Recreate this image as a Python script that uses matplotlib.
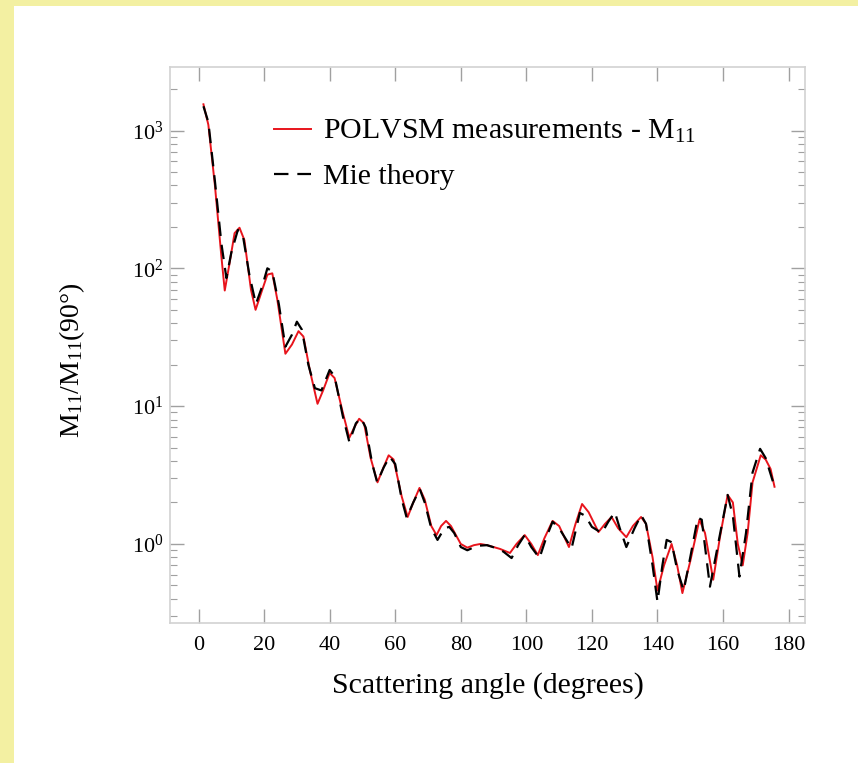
import matplotlib
matplotlib.use('Agg')
import matplotlib.pyplot as plt
from matplotlib.ticker import LogLocator, LogFormatterMathtext, NullFormatter
from matplotlib.patches import Rectangle

plt.rcParams['font.family'] = ['Liberation Serif', 'DejaVu Serif']
plt.rcParams['mathtext.fontset'] = 'custom'
plt.rcParams['mathtext.rm'] = 'Liberation Serif'
plt.rcParams['mathtext.it'] = 'Liberation Serif:italic'

theta_meas = [1.5, 3, 5, 7, 8, 9.5, 11, 12.5, 14, 16, 17.4, 19, 21, 22.5, 24, 26.5,
              28.5, 30.5, 32, 34, 36.3, 38, 40, 41.5, 44, 46, 47.5, 49, 50.5, 52.5,
              54.6, 56, 58, 59.5, 62, 63.8, 65.5, 67.4, 69, 71, 72.6, 74, 75.5, 77,
              80, 82, 84, 86, 88, 90, 92, 95, 97, 99.5, 101.5, 103.5, 105.5, 108,
              110, 113, 115, 117, 119, 122, 124, 126, 128, 130.5, 132.5, 135, 136.5,
              138.5, 140, 142, 144.3, 146, 147.6, 150, 152.8, 154.5, 157, 159, 161.4,
              163, 164.5, 166, 167.5, 169, 171.5, 173, 174.5, 175.7]
m11_meas = [1550, 1100, 400, 120, 69, 110, 180, 197, 160, 70, 50, 65, 90, 92, 60, 24,
            28, 35, 32, 18, 10.4, 13, 17.4, 16, 9, 5.9, 7, 8.1, 7.5, 4.2,
            2.8, 3.4, 4.4, 4.1, 2.2, 1.57, 2.0, 2.55, 2.1, 1.35, 1.16, 1.35, 1.47, 1.35,
            1.0, 0.94, 0.98, 1.0, 0.98, 0.95, 0.92, 0.86, 1.0, 1.16, 1.0, 0.83, 1.1, 1.47,
            1.35, 0.95, 1.4, 1.95, 1.7, 1.22, 1.4, 1.57, 1.3, 1.12, 1.35, 1.57, 1.4,
            0.8, 0.46, 0.7, 1.0, 0.7, 0.44, 0.75, 1.5, 1.2, 0.55, 1.1, 2.27,
            2.0, 1.0, 0.7, 1.2, 2.8, 4.4, 4.1, 3.5, 2.6]

# Mie theory
theta_mie = [1.5, 3, 5, 7, 8.5, 10, 12, 13.5, 15.5, 17.5, 19.5, 21, 22.5, 24.5, 26.5,
             28.5, 30, 31.5, 33.5, 35.5, 37.5, 40, 41.5, 44, 46, 48, 49.5, 51, 53,
             54.5, 56.5, 58.3, 60, 62, 63.5, 65.5, 67.5, 69, 71, 72.9, 75, 76.5, 78,
             80, 82, 85, 88, 91, 93, 95.5, 97.5, 99.5, 101.5, 104, 106, 108, 110,
             113.8, 116.3, 118, 120, 123, 125, 127, 128.5, 130.5, 133, 135, 136.5,
             138.5, 140, 141.5, 142.8, 144.3, 146, 148, 150, 152.3, 153.5, 156, 158.5,
             161.4, 163, 165, 167, 169, 171.3, 173, 175.7]
m11_mie = [1500, 1150, 430, 150, 85, 130, 190, 175, 90, 55, 75, 100, 95, 55, 27,
           33, 41, 36, 20, 13.5, 13, 18.3, 16.5, 8.5, 5.5, 7.5, 8.2, 7, 3.8,
           2.8, 3.6, 4.3, 3.8, 2.1, 1.55, 2.0, 2.5, 2.0, 1.3, 1.07, 1.3, 1.33, 1.2,
           0.95, 0.9, 0.97, 0.98, 0.93, 0.88, 0.79, 0.98, 1.16, 0.95, 0.79, 1.1, 1.45, 1.3,
           0.93, 1.68, 1.6, 1.33, 1.2, 1.45, 1.7, 1.3, 0.95, 1.3, 1.62, 1.4,
           0.7, 0.38, 0.7, 1.07, 1.03, 0.65, 0.46, 0.8, 1.55, 1.5, 0.49, 1.0,
           2.27, 1.6, 0.58, 1.2, 3.3, 4.9, 4.2, 2.6]

x_ticks = [0, 20, 40, 60, 80, 100, 120, 140, 160, 180]

fig = plt.figure(figsize=(8.58, 7.63), dpi=100)
fig.patch.set_facecolor('#f3f0a2')
fig.add_artist(Rectangle((14 / 858, 0), 1, 1 - 6 / 763, transform=fig.transFigure,
                         facecolor='white', edgecolor='none', zorder=-5))

ax = fig.add_axes([170 / 858, 1 - 623 / 763, 635 / 858, 556 / 763])
ax.plot(theta_meas, m11_meas, color='#e8141c', lw=1.4, label='POLVSM measurements - M$_{11}$')
ax.plot(theta_mie, m11_mie, color='black', lw=1.6, dashes=(6.5, 4), label='Mie theory')

ax.set_yscale('log')
ax.set_xlim(-8.7, 185)
ax.set_ylim(0.267, 2890)
ax.set_xticks(x_ticks)
ax.yaxis.set_major_locator(LogLocator(base=10))
ax.yaxis.set_major_formatter(LogFormatterMathtext())
ax.yaxis.set_minor_locator(LogLocator(base=10, subs=range(2, 10)))
ax.yaxis.set_minor_formatter(NullFormatter())

for s in ax.spines.values():
    s.set_color('#d2d2d2')
    s.set_linewidth(1.2)
ax.tick_params(which='both', direction='in', top=True, right=True, color='#a0a0a0')
ax.tick_params(which='major', length=10, width=1.0, labelsize=16)
ax.tick_params(which='minor', length=5, width=0.8)
ax.tick_params(axis='x', pad=9)
ax.tick_params(axis='y', pad=5)

ax.set_xlabel('Scattering angle (degrees)', fontsize=21.5)
ax.xaxis.set_label_coords(0.5, -0.089)
ax.set_ylabel('M$_{11}$/M$_{11}$(90°)', fontsize=20)
ax.yaxis.set_label_coords(-0.131, 0.473)

ax.legend(loc='upper left', bbox_to_anchor=(0.14, 0.935), frameon=False, fontsize=21.5,
          handlelength=1.25, handletextpad=0.4, labelspacing=0.6, borderpad=0)

fig.savefig('out.png', dpi=100, facecolor=fig.get_facecolor())
